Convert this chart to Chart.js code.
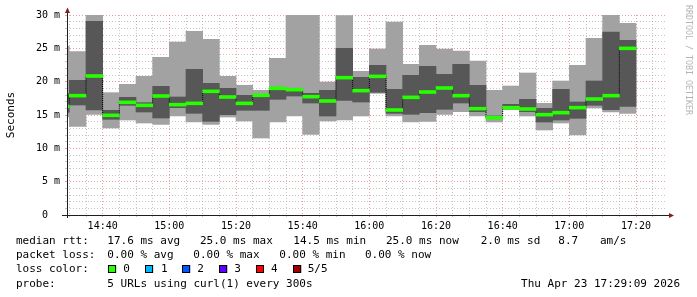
<!DOCTYPE html>
<html><head><meta charset="utf-8">
<script src="https://cdn.jsdelivr.net/npm/chart.js@4/dist/chart.umd.min.js"></script>
<style>html,body{margin:0;padding:0;background:#fff;overflow:hidden}</style>
</head><body>
<canvas id="c" width="697" height="297"></canvas>
<script>
// ---- data (ms) ----
const binStarts = ["14:25","14:30","14:35","14:40","14:45","14:50","14:55","15:00","15:05","15:10","15:15","15:20","15:25","15:30","15:35","15:40","15:45","15:50","15:55","16:00","16:05","16:10","16:15","16:20","16:25","16:30","16:35","16:40","16:45","16:50","16:55","17:00","17:05","17:10","17:15"];
const pingMin  = [14.7,13.3,15.1,13.05,14.25,13.8,13.6,14.85,13.95,13.6,14.7,14.1,11.55,13.95,14.85,12.1,14.1,14.25,14.85,18.25,14.85,13.95,14.05,15.1,15.5,14.85,13.95,15.85,14.85,12.75,13.8,12.0,16.05,15.45,15.25];
const pingLow  = [15.4,16.5,15.75,14.35,16.45,15.45,14.55,16.1,15.25,14.05,15.05,15.7,15.7,17.35,17.85,16.8,14.85,17.2,16.95,18.4,15.25,15.1,15.35,15.85,16.8,15.5,14.55,15.9,15.5,13.95,14.25,14.5,16.45,15.8,16.3];
const median   = [16.3,17.9,20.85,14.95,16.9,16.45,17.85,16.55,16.75,18.55,17.7,16.75,17.95,19.0,18.8,17.75,17.1,20.6,18.65,20.8,15.75,17.65,18.45,19.05,17.9,15.95,14.6,16.1,15.9,15.05,15.35,16.1,17.4,17.9,25.0];
const pingHigh = [18.2,20.2,29.05,15.7,17.65,16.85,19.3,17.7,21.85,19.75,19.0,17.95,18.0,19.05,18.95,18.25,18.7,25.0,20.65,22.45,18.85,20.95,22.3,21.1,22.6,19.45,14.85,16.6,17.35,16.0,18.85,16.95,20.1,27.45,26.2];
const pingMax  = [25.3,24.5,31.0,18.35,19.6,20.8,23.65,25.95,27.55,26.35,20.8,19.45,18.7,23.5,31.0,31.0,19.95,29.9,21.55,24.9,28.95,22.6,25.45,24.9,24.6,23.1,18.7,19.35,21.3,16.75,20.1,22.45,26.5,31.0,28.75];
const xTickLabels = ["14:40","15:00","15:20","15:40","16:00","16:20","16:40","17:00","17:20"];
const yTickLabels = ["0","5 m","10 m","15 m","20 m","25 m","30 m"];
const rttStats  = ["17.6 ms avg","25.0 ms max","14.5 ms min","25.0 ms now","2.0 ms sd","8.7","am/s"];
const lossStats = ["0.00 % avg","0.00 % max","0.00 % min","0.00 % now"];
const lossLabels = ["0","1","2","3","4","5/5"];
const lossColors = ["#26ff00","#00b8ff","#0059ff","#5e00ff","#ff0000","#a10000"];
const probeText = "5 URLs using curl(1) every 300s";
const stampText = "Thu Apr 23 17:29:09 2026";

// ---- helpers ----
const toMin = s => { const [h,m] = s.split(':').map(Number); return (h-14)*60 + m; };
const centers = binStarts.map(s => toMin(s) + 2.5);
const X_MIN = 29.3, X_MAX = 209.3;
const gridMinutes = []; for (let v = 30; v <= 205; v += 5) gridMinutes.push(v);
const xLabelMap = {}; xTickLabels.forEach(l => xLabelMap[toMin(l)] = l);

const GRID = 'rgba(150,150,150,0.55)';
const MGRID = 'rgba(222,79,79,0.55)';
const MONO = "'DejaVu Sans Mono', monospace";
const tickFont = { family: MONO, size: 10 };
const MED_HALF = 0.22;

const rangeData = (lo, hi) => centers.map((c,i) => ({x: c, y: [lo[i], hi[i]]}));

const deco = {
  id: 'deco',
  afterDraw(chart) {
    const ctx = chart.ctx, a = chart.chartArea;
    ctx.save();
    ctx.strokeStyle = 'rgb(31,31,31)'; ctx.lineWidth = 1; ctx.setLineDash([]);
    ctx.beginPath();
    ctx.moveTo(62, a.bottom + 0.5); ctx.lineTo(a.right + 3, a.bottom + 0.5);
    ctx.moveTo(a.left + 0.5, a.bottom + 3); ctx.lineTo(a.left + 0.5, a.top - 3);
    ctx.stroke();
    ctx.fillStyle = 'rgb(128,31,31)';
    ctx.beginPath();
    ctx.moveTo(a.right + 2, a.bottom + 0.5 - 2.5); ctx.lineTo(a.right + 2, a.bottom + 0.5 + 2.5); ctx.lineTo(a.right + 7, a.bottom + 0.5); ctx.closePath(); ctx.fill();
    ctx.beginPath();
    ctx.moveTo(a.left + 0.5 - 2.5, a.top - 2); ctx.lineTo(a.left + 0.5 + 2.5, a.top - 2); ctx.lineTo(a.left + 0.5, a.top - 7.5); ctx.closePath(); ctx.fill();
    ctx.fillStyle = '#000';
    ctx.font = "11px " + MONO;
    ctx.textBaseline = 'middle'; ctx.textAlign = 'center';
    ctx.save(); ctx.translate(11, 115); ctx.rotate(-Math.PI/2); ctx.fillText('Seconds', 0, 0); ctx.restore();
    ctx.save(); ctx.fillStyle = '#b4b4b4'; ctx.font = "8.3px " + MONO;
    ctx.translate(688, 60); ctx.rotate(Math.PI/2); ctx.fillText('RRDTOOL / TOBI OETIKER', 0, 0); ctx.restore();
    ctx.textAlign = 'left'; ctx.fillStyle = '#000'; ctx.font = "11px " + MONO;
    const r1 = 241, r2 = 255.3, r3 = 269.5, r4 = 283.7;
    ctx.fillText('median rtt:', 16, r1);
    [107.3, 200, 293.3, 386, 480.7, 558.3, 600].forEach((x,i) => ctx.fillText(rttStats[i], x, r1));
    ctx.fillText('packet loss:', 16, r2);
    [107.3, 193.3, 279.3, 365].forEach((x,i) => ctx.fillText(lossStats[i], x, r2));
    ctx.fillText('loss color:', 16, r3);
    const bx = [108.3, 145.3, 182.3, 219.3, 256, 293.3];
    const lx = [123.3, 161, 197.3, 234.3, 271, 307.7];
    bx.forEach((x,i) => {
      ctx.fillStyle = lossColors[i]; ctx.fillRect(x, 265, 8, 8);
      ctx.strokeStyle = '#000'; ctx.strokeRect(Math.round(x) + 0.5, 265.5, 7, 7);
      ctx.fillStyle = '#000'; ctx.fillText(lossLabels[i], lx[i], r3);
    });
    ctx.fillText('probe:', 16, r4);
    ctx.fillText(probeText, 107.3, r4);
    ctx.textAlign = 'right'; ctx.fillText(stampText, 680, r4);
    ctx.restore();
  }
};

new Chart(document.getElementById('c'), {
  type: 'bar',
  data: {
    datasets: [
      { label: 'min-max', data: rangeData(pingMin, pingMax), backgroundColor: '#a2a2a2', order: 4 },
      { label: 'inner', data: rangeData(pingLow, pingHigh), backgroundColor: '#575757', order: 3 },
      { type: 'line', label: 'link', data: centers.map((c,i) => ({x: c, y: median[i]})), stepped: 'middle',
        borderColor: '#000', borderWidth: 1, borderDash: [1,1], pointRadius: 0, fill: false, order: 2 },
      { label: 'median', data: centers.map((c,i) => ({x: c, y: [median[i]-MED_HALF, median[i]+MED_HALF]})), backgroundColor: '#26ff00', order: 1 }
    ]
  },
  options: {
    responsive: false, animation: false, events: [],
    layout: { padding: { left: 0, top: 15, right: 30, bottom: 0 } },
    plugins: { legend: { display: false }, tooltip: { enabled: false } },
    datasets: { bar: { grouped: false, categoryPercentage: 1, barPercentage: 1, borderWidth: 0 } },
    scales: {
      x: {
        type: 'linear', min: X_MIN, max: X_MAX, offset: false, z: 1,
        afterBuildTicks: s => { s.ticks = gridMinutes.map(v => ({ value: v })); },
        afterFit: s => { s.height = 82; },
        ticks: { autoSkip: false, maxRotation: 0, minRotation: 0, padding: 3, font: tickFont, color: '#000',
                 callback: v => xLabelMap[v] || '' },
        grid: { offset: false, lineWidth: 1, drawTicks: true, tickLength: 2,
                color: c => (c.tick && c.tick.value % 20 === 0) ? MGRID : GRID,
                tickColor: c => (c.tick && c.tick.value % 20 === 0) ? MGRID : GRID },
        border: { display: false, dash: [1,2] }
      },
      y: {
        type: 'linear', min: 0, max: 30, z: 1,
        afterFit: s => { s.width = 67; },
        ticks: { stepSize: 1, autoSkip: false, padding: 5, font: tickFont, color: '#000',
                 callback: v => (v % 5 === 0) ? yTickLabels[v/5].padEnd(3) : '' },
        grid: { lineWidth: 1, drawTicks: true, tickLength: 2,
                color: c => (c.tick && c.tick.value % 5 === 0) ? MGRID : GRID,
                tickColor: c => (c.tick && c.tick.value % 5 === 0) ? MGRID : GRID },
        border: { display: false, dash: [1,2] }
      }
    }
  },
  plugins: [deco]
});
</script>
</body></html>
